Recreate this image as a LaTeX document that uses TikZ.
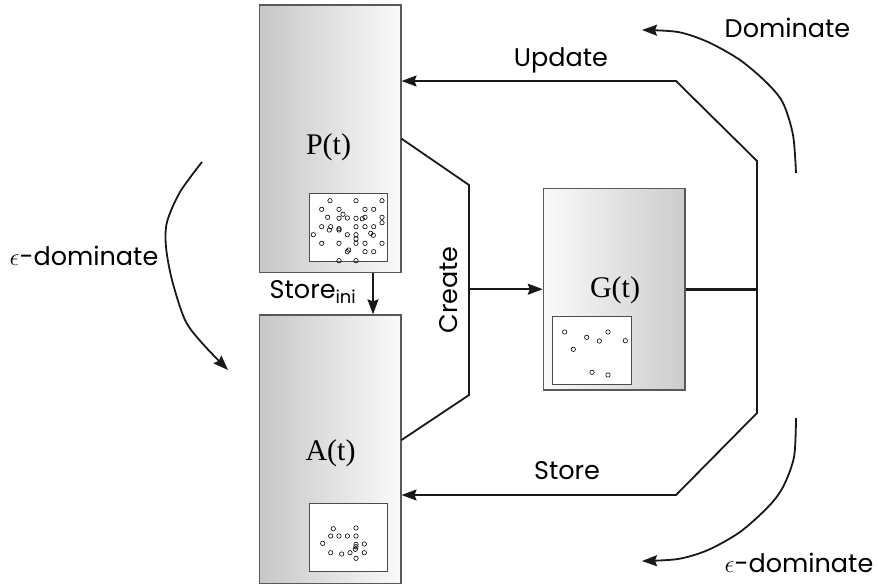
\documentclass[tikz,border=0pt]{standalone}
\usepackage{fontspec}
\setmainfont{Poppins}
\newfontfamily\serifface{Liberation Serif}
\usetikzlibrary{arrows.meta}
\tikzset{
  bigbox/.style={draw=black!65, line width=1.2pt, inner sep=0pt, minimum width=141.5pt},
  pshade/.style={left color=black!22, right color=black!2},
  gshade/.style={left color=black!2, right color=black!20},
  innerbox/.style={draw=black!70, line width=0.9pt, fill=white, inner sep=0pt, minimum width=78.4pt, minimum height=68pt},
  conn/.style={line width=1.8pt, black!90},
  arr/.style={conn, -{Stealth[length=15pt,width=11pt,inset=2pt]}},
  dot/.style={draw=black, line width=0.6pt},
  lbl/.style={font=\fontsize{25.5}{28}\selectfont, inner sep=0pt},
  setlbl/.style={font=\serifface\fontsize{30}{32}\selectfont, inner sep=0pt}
}
\begin{document}
\begin{tikzpicture}[x=1pt, y=-1pt]
\useasboundingbox (0,0) rectangle (878,587);
% boxes
\node[bigbox, pshade, minimum height=267.5pt] (P) at (330.2,138.7) {};
\node[bigbox, pshade, minimum height=268.5pt] (A) at (330.2,449.2) {};
\node[bigbox, gshade, minimum width=141.7pt, minimum height=201.7pt] (G) at (614.2,289.2) {};
\node[innerbox] (Pi) at (348.5,227.7) {};
\node[innerbox] (Ai) at (348.5,537.8) {};
\node[innerbox, minimum width=78.3pt, minimum height=67.6pt] (Gi) at (591.8,350.5) {};
\node[setlbl] (Pl) at (328.5,147) {P(t)};
\node[setlbl] (Al) at (330.5,453) {A(t)};
\node[setlbl] (Gl) at (615,290) {G(t)};
% dots
\foreach \x/\y in {330/200.7,356/200.7,382/200.7,
  321.7/209.3,339/209.3,365/209.3,373.7/209.3,
  327.7/217.3,343/214.3,339/218.3,347.3/218,356/218.3,362.3/218.7,365/217.3,382/217.3,382/222.7,
  321.7/226.7,330.7/226.7,329.3/230,339/230,339/228.7,356/226.7,365/226.7,373.7/226.7,347.3/234.7,356/234.7,356/239,370.7/233.3,373.3/235.3,
  313.3/234.7,
  321.7/243.3,339/243.3,356/243.3,365/243.3,382/243.3,
  348.7/250,347.3/251.7,365/251.7,373.7/251.7,
  339/260.7,356/260.7}
  \draw[dot] (\x,\y) circle[radius=2.2pt];
\foreach \x/\y in {333.3/528.7,356/528,330.7/536,339/536,347.3/536,356/536,322.7/543.3,356/544.3,356/546.7,364.3/544,330.7/552.7,341.7/554,350/552.7,355.3/549.3,356/558.3,364.3/552.7}
  \draw[dot] (\x,\y) circle[radius=2.2pt];
\foreach \x/\y in {564.7/332,586.7/337.3,599.3/341,608/332,625.3/340.7,573.3/349.3,592/372.3,608/375}
  \draw[dot] (\x,\y) circle[radius=2.2pt];
% coordinates
\coordinate (c1) at (469,185);
\coordinate (c2) at (469,395);
\coordinate (ae) at (401,440);
\coordinate (si) at (373,0);
\coordinate (J) at (757,289.2);
\coordinate (RT) at (757,161);
\coordinate (UT) at (676,81);
\coordinate (RB) at (757,413);
\coordinate (SB) at (676,495);
% connectors
\draw[conn] (P.east) -- (c1) -- (c2) -- (A.east |- ae);
\draw[arr] (c1 |- G.west) -- (G.west);
\draw[arr] (P.south -| si) -- (A.north -| si);
\draw[black!90, line width=3pt] (G.east) -- (J);
\draw[arr] (J) -- (RT) -- (UT) -- (P.east |- UT);
\draw[arr] (J) -- (RB) -- (SB) -- (A.east |- SB);
% curved arrows
\draw[arr] plot[smooth] coordinates {(796,173) (793,135) (783,103) (767,83) (740,60) (708,42) (678,32) (642,30)};
\draw[arr] plot[smooth] coordinates {(796,418) (794,457) (783,487) (768,507) (740,532) (708,550) (678,559) (642,561)};
\draw[arr] plot[smooth] coordinates {(202,162) (180,192) (167,222) (166,247) (172,280) (185,320) (202,343) (228,370)};
% labels
\node[lbl] (tu) at (561,60) {Update};
\node[lbl] (ts) at (567,471) {Store};
\node[lbl] (td) at (787.5,28) {Dominate};
\node[lbl] (te1) at (799,563) {$\epsilon$-dominate};
\node[lbl] (te2) at (84,256) {$\epsilon$-dominate};
\node[lbl, rotate=90] (tc) at (449,290) {Create};
\node[lbl] (tsi) at (313,292) {Store\textsubscript{ini}};
\end{tikzpicture}
\end{document}
